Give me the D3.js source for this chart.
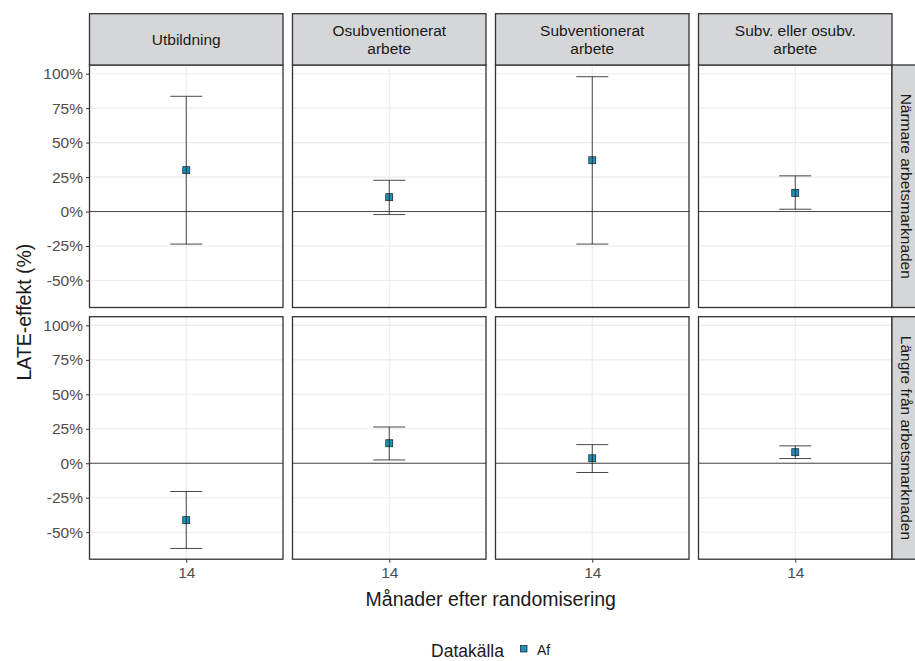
<!DOCTYPE html>
<html>
<head>
<meta charset="utf-8">
<script src="https://cdn.jsdelivr.net/npm/d3@7"></script>
<style>
  body { margin: 0; background: #fff; }
  text { font-family: "Liberation Sans", Arial, sans-serif; }
</style>
</head>
<body>
<div class="chart"></div>
<script>
// facets
const columns = [["Utbildning"], ["Osubventionerat", "arbete"], ["Subventionerat", "arbete"], ["Subv. eller osubv.", "arbete"]];
const rows = ["Närmare arbetsmarknaden", "Längre från arbetsmarknaden"];
const months = [14];
const yTicks = [-0.5, -0.25, 0, 0.25, 0.5, 0.75, 1];

// LATE estimates, one value per column, per row
const est_near  = [0.30, 0.104, 0.372, 0.135];
const lo_near   = [-0.236, -0.022, -0.236, 0.017];
const hi_near   = [0.836, 0.227, 0.978, 0.259];
const est_far   = [-0.413, 0.145, 0.036, 0.08];
const lo_far    = [-0.618, 0.024, -0.067, 0.034];
const hi_far    = [-0.205, 0.263, 0.135, 0.126];

const width = 915, height = 661;
const left = 89.5, panelW = 193.5, gapX = 9.5;
const stripTop = 13.7, stripH = 51.3;
const panelTops = [65, 316.7], panelH = 242.5;
const fill = "#1f8fbb";

const est = [est_near, est_far], lo = [lo_near, lo_far], hi = [hi_near, hi_far];

const svg = d3.select('.chart')
    .append('svg')
    .attr('width', width)
    .attr('height', height);

const x = d3.scalePoint().domain(months).range([0, panelW]).padding(0.5);
const y = d3.scaleLinear().domain([-0.696, 1.063]).range([panelH, 0]);

rows.forEach((rowName, r) => {
    columns.forEach((col, c) => {
        const g = svg.append('g')
            .attr('transform', `translate(${left + c * (panelW + gapX)}, ${panelTops[r]})`);

        // grid
        g.selectAll('.hgrid')
            .data(yTicks)
            .join('line')
            .attr('x1', 0).attr('x2', panelW)
            .attr('y1', d => y(d)).attr('y2', d => y(d))
            .attr('stroke', '#ebebeb')
            .attr('stroke-width', 1.1);
        g.selectAll('.vgrid')
            .data(months)
            .join('line')
            .attr('x1', d => x(d)).attr('x2', d => x(d))
            .attr('y1', 0).attr('y2', panelH)
            .attr('stroke', '#ebebeb')
            .attr('stroke-width', 1.1);

        // zero line
        g.append('line')
            .attr('x1', 0).attr('x2', panelW)
            .attr('y1', y(0)).attr('y2', y(0))
            .attr('stroke', '#333')
            .attr('stroke-width', 0.9);

        const d = { m: months[0], e: est[r][c], lo: lo[r][c], hi: hi[r][c] };
        const cx = x(d.m);

        g.append('rect')
            .attr('x', cx - 3.5).attr('y', y(d.e) - 3.5)
            .attr('width', 7).attr('height', 7)
            .attr('fill', fill)
            .attr('stroke', '#1a1a1a')
            .attr('stroke-width', 0.7);

        const eb = g.append('g')
            .attr('stroke', '#1a1a1a')
            .attr('stroke-width', 0.8);
        eb.append('line').attr('x1', cx).attr('x2', cx).attr('y1', y(d.lo)).attr('y2', y(d.hi));
        eb.append('line').attr('x1', cx - 16).attr('x2', cx + 16).attr('y1', y(d.lo)).attr('y2', y(d.lo));
        eb.append('line').attr('x1', cx - 16).attr('x2', cx + 16).attr('y1', y(d.hi)).attr('y2', y(d.hi));

        // panel border
        g.append('rect')
            .attr('width', panelW).attr('height', panelH)
            .attr('fill', 'none')
            .attr('stroke', '#333')
            .attr('stroke-width', 1.3);

        // y axis on first column
        if (c === 0) {
            const ax = g.append('g')
                .call(d3.axisLeft(y).tickValues(yTicks).tickSize(3.5).tickPadding(3)
                    .tickFormat(v => Math.round(v * 100) + '%'));
            ax.select('.domain').remove();
            ax.selectAll('line').attr('stroke', '#333').attr('stroke-width', 1);
            ax.selectAll('text').attr('fill', '#4d4d4d').attr('font-size', 15.5)
                .attr('font-family', '"Liberation Sans", Arial, sans-serif');
        }

        // x axis on bottom row
        if (r === rows.length - 1) {
            const ax = g.append('g')
                .attr('transform', `translate(0, ${panelH})`)
                .call(d3.axisBottom(x).tickSize(3.5).tickPadding(4));
            ax.select('.domain').remove();
            ax.selectAll('line').attr('stroke', '#333').attr('stroke-width', 1);
            ax.selectAll('text').attr('fill', '#4d4d4d').attr('font-size', 15.5)
                .attr('font-family', '"Liberation Sans", Arial, sans-serif');
        }

        // top strips
        if (r === 0) {
            const s = svg.append('g')
                .attr('transform', `translate(${left + c * (panelW + gapX)}, ${stripTop})`);
            s.append('rect')
                .attr('width', panelW).attr('height', stripH)
                .attr('fill', '#d5d6d8')
                .attr('stroke', '#333')
                .attr('stroke-width', 1.3);
            s.append('text')
                .attr('text-anchor', 'middle')
                .attr('font-size', 15.5)
                .attr('fill', '#1a1a1a')
                .selectAll('tspan')
                .data(col)
                .join('tspan')
                .attr('x', panelW / 2)
                .attr('y', (t, i) => stripH / 2 + 5.5 + (i - (col.length - 1) / 2) * 18.3)
                .text(t => t);
        }
    });

    // right strip
    const rs = svg.append('g')
        .attr('transform', `translate(${left + 4 * panelW + 3 * gapX}, ${panelTops[r]})`);
    rs.append('rect')
        .attr('width', 26).attr('height', panelH)
        .attr('fill', '#d5d6d8')
        .attr('stroke', '#333')
        .attr('stroke-width', 1.3);
    rs.append('text')
        .attr('transform', `translate(${9}, ${panelH / 2}) rotate(90)`)
        .attr('text-anchor', 'middle')
        .attr('font-size', 15.5)
        .attr('fill', '#1a1a1a')
        .text(rowName);
});

// axis titles
svg.append('text')
    .attr('transform', `translate(30.5, ${(panelTops[0] + panelTops[1] + panelH) / 2}) rotate(-90)`)
    .attr('text-anchor', 'middle')
    .attr('font-size', 19.5)
    .attr('fill', '#1a1a1a')
    .text('LATE-effekt (%)');

svg.append('text')
    .attr('x', left + (4 * panelW + 3 * gapX) / 2)
    .attr('y', 606)
    .attr('text-anchor', 'middle')
    .attr('font-size', 19.5)
    .attr('fill', '#1a1a1a')
    .text('Månader efter randomisering');

// legend
const legend = svg.append('g').attr('transform', 'translate(0, 0)');
legend.append('text')
    .attr('x', 504).attr('y', 657)
    .attr('text-anchor', 'end')
    .attr('font-size', 17.5)
    .attr('fill', '#1a1a1a')
    .text('Datakälla');
legend.append('rect')
    .attr('x', 520.5).attr('y', 645.5)
    .attr('width', 6.5).attr('height', 6.5)
    .attr('fill', fill)
    .attr('stroke', '#1a1a1a')
    .attr('stroke-width', 0.7);
legend.append('text')
    .attr('x', 537).attr('y', 655)
    .attr('font-size', 14)
    .attr('fill', '#1a1a1a')
    .text('Af');
</script>
</body>
</html>
